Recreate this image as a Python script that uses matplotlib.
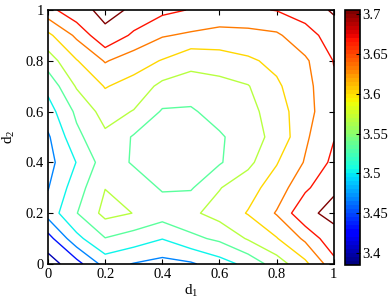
import numpy as np
import matplotlib
matplotlib.use('Agg')
import matplotlib.pyplot as plt
from matplotlib.colors import ListedColormap, Normalize
from matplotlib.cm import ScalarMappable

plt.rcParams['font.family'] = ['Liberation Serif', 'DejaVu Serif']
plt.rcParams['mathtext.fontset'] = 'custom'
plt.rcParams['mathtext.rm'] = 'Liberation Serif'
plt.rcParams['mathtext.it'] = 'Liberation Serif:italic'

# grid coordinates (d1, d2)
d1_grid = [0.0, 0.1, 0.2, 0.3, 0.4, 0.5, 0.6, 0.7, 0.8, 0.9, 1.0]
d2_grid = [0.0, 0.1, 0.2, 0.3, 0.4, 0.5, 0.6, 0.7, 0.8, 0.9, 1.0]

# values, lower triangle rows (row j = d2, col i = d1, i <= j);
# field is (approximately) symmetric in d1 <-> d2
row_00 = [3.385]
row_01 = [3.420, 3.490]
row_02 = [3.480, 3.532, 3.577]
row_03 = [3.465, 3.518, 3.566, 3.550]
row_04 = [3.455, 3.501, 3.550, 3.530, 3.520]
row_05 = [3.462, 3.525, 3.560, 3.530, 3.520, 3.520]
row_06 = [3.485, 3.540, 3.580, 3.565, 3.530, 3.528, 3.550]
row_07 = [3.510, 3.570, 3.602, 3.588, 3.558, 3.555, 3.555, 3.565]
row_08 = [3.550, 3.598, 3.636, 3.615, 3.598, 3.575, 3.585, 3.595, 3.608]
row_09 = [3.592, 3.640, 3.695, 3.660, 3.636, 3.628, 3.620, 3.622, 3.628, 3.655]
row_10 = [3.655, 3.692, 3.706, 3.697, 3.675, 3.665, 3.660, 3.662, 3.668, 3.680, 3.705]
rows = [row_00, row_01, row_02, row_03, row_04, row_05, row_06, row_07, row_08, row_09, row_10]

contour_levels = [3.4, 3.4333, 3.4667, 3.5, 3.5333, 3.5667, 3.6, 3.6333, 3.6667, 3.7]
cbar_ticks = [3.4, 3.45, 3.5, 3.55, 3.6, 3.65, 3.7]
cbar_labels = ['3.4', '3.45', '3.5', '3.55', '3.6', '3.65', '3.7']
axis_ticks = [0, 0.2, 0.4, 0.6, 0.8, 1]
axis_labels = ['0', '0.2', '0.4', '0.6', '0.8', '1']
c_min, c_max = 3.385, 3.705

n = len(d1_grid)
Z = np.zeros((n, n))
for j, r in enumerate(rows):
    for i, v in enumerate(r):
        Z[j, i] = v
        Z[i, j] = v
X, Y = np.meshgrid(d1_grid, d2_grid)

cmap = ListedColormap(plt.get_cmap('jet')(np.linspace(0, 1, 64)))
norm = Normalize(c_min, c_max)

fig = plt.figure(figsize=(3.9, 3.02), dpi=100)
ax = fig.add_axes([0.123, 0.126, 0.733, 0.841])
ax.contour(X, Y, Z, levels=contour_levels, cmap=cmap, norm=norm, linewidths=1.0)
ax.set_xlim(0, 1)
ax.set_ylim(0, 1)
ax.set_xticks(axis_ticks)
ax.set_xticklabels(axis_labels)
ax.set_yticks(axis_ticks)
ax.set_yticklabels(axis_labels)
ax.tick_params(direction='in', top=True, right=True, length=3.5, width=0.8, labelsize=10.5, pad=3)
for s in ax.spines.values():
    s.set_linewidth(1.2)
ax.set_xlabel('d$_1$', fontsize=11, labelpad=1)
ax.set_ylabel('d$_2$', fontsize=11, labelpad=6)

cax = fig.add_axes([0.885, 0.1225, 0.038, 0.8445])
cb = fig.colorbar(ScalarMappable(norm=norm, cmap=cmap), cax=cax)
cb.set_ticks(cbar_ticks)
cb.set_ticklabels(cbar_labels)
cax.tick_params(direction='in', length=3, width=0.8, labelsize=10.5, pad=2)
cb.outline.set_linewidth(1.2)

fig.savefig('out.png', dpi=100)
